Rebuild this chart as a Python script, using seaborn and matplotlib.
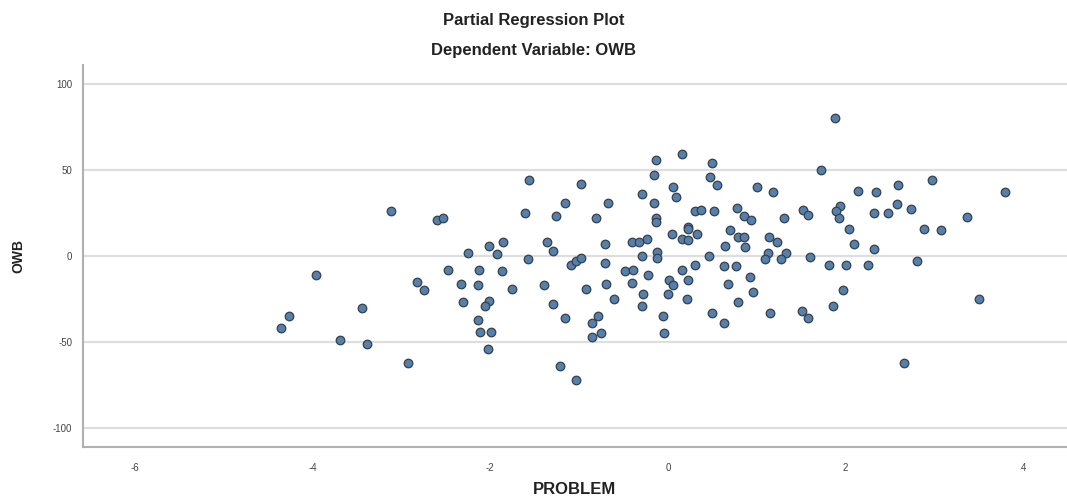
import matplotlib
matplotlib.use("Agg")
import matplotlib.pyplot as plt
import seaborn as sns
import pandas as pd

# Data
problem = [
    -4.35, -4.26, -3.96, -3.69, -3.44, -3.39, -3.12, -2.92, -2.82, -2.74,
    -2.60, -2.53, -2.25, -2.01, -1.92, -1.86, -2.47, -2.13, -1.87, -2.33,
    -2.14, -2.31, -2.01, -2.06, -2.14, -2.11, -1.99, -2.03, -1.56, -0.98,
    -1.16, -0.67, -1.61, -1.26, -0.81, -1.36, -1.29, -1.57, -1.09, -1.04,
    -0.98, -0.71, -0.71, -1.75, -1.39, -0.92, -0.70, -0.61, -1.29, -1.16,
    -0.79, -0.85, -0.75, -0.85, -1.22, -1.03, -0.14, 0.16, 0.49, -0.16,
    0.47, 0.55, 0.06, 0.09, -0.29, -0.16, 0.30, 0.37, 0.52, 0.78,
    -0.14, -0.13, 0.22, 0.22, 0.33, 0.04, 0.16, 0.23, 0.70, 0.79,
    -0.41, -0.33, -0.24, 0.64, -0.12, -0.29, -0.12, 0.46, 0.30, 0.16,
    -0.48, -0.39, -0.22, 0.01, 0.06, 0.22, 0.63, 0.76, 0.67, -0.41,
    -0.28, 0.00, 0.21, -0.29, 0.79, 0.50, -0.06, 0.63, -0.04, 1.72,
    1.00, 1.18, 2.14, 2.34, 0.85, 0.93, 1.31, 1.52, 1.57, 1.94,
    1.89, 1.92, 2.32, 2.48, 2.04, 2.09, 2.32, 0.85, 0.87, 1.14,
    1.23, 1.12, 1.09, 1.33, 1.27, 1.60, 1.81, 2.00, 2.25, 0.92,
    0.96, 1.15, 1.51, 1.57, 1.97, 1.86, 2.97, 2.59, 3.79, 2.58,
    2.74, 3.36, 2.88, 3.07, 2.80, 3.50, 2.66, 1.88,
]
owb = [
    -42, -35, -11, -49, -30, -51, 26, -62, -15, -20,
    21, 22, 2, 6, 1, 8, -8, -8, -9, -16,
    -17, -27, -26, -29, -37, -44, -44, -54, 44, 42,
    31, 31, 25, 23, 22, 8, 3, -2, -5, -3,
    -1, 7, -4, -19, -17, -19, -16, -25, -28, -36,
    -35, -39, -45, -47, -64, -72, 56, 59, 54, 47,
    46, 41, 40, 34, 36, 31, 26, 27, 26, 28,
    22, 20, 17, 15.5, 13, 13, 10, 9, 15, 11,
    8, 8, 10, 6, 2.5, 0, -1, 0, -5, -8,
    -9, -8, -11, -14, -17, -14, -6, -6, -16, -15.5,
    -22, -22, -25, -29, -27, -33, -35, -39, -45, 50,
    40, 37, 38, 37, 23, 21, 22, 27, 24, 29,
    26, 22, 25, 25, 15.5, 7, 4, 11, 5, 11,
    8, 2, -2, 2, -2, -0.5, -5, -5, -5, -12,
    -21, -33, -32, -36, -20, -29, 44, 41, 37, 30,
    27.5, 22.5, 15.5, 15, -3, -25, -62, 80,
]
x_ticks = [-6, -4, -2, 0, 2, 4]
y_ticks = [-100, -50, 0, 50, 100]

df = pd.DataFrame({"PROBLEM": problem, "OWB": owb})

sns.set_theme(style="white")
plt.rcParams["font.family"] = ["Liberation Sans", "DejaVu Sans"]
plt.rcParams["axes.unicode_minus"] = False

fig = plt.figure(figsize=(10.67, 4.99), dpi=100)
ax = fig.add_axes([0.078, 0.105, 0.922, 0.765])

for yv in y_ticks:
    ax.axhline(yv, color="#dedede", lw=1.6, zorder=0)

sns.scatterplot(data=df, x="PROBLEM", y="OWB", ax=ax, s=38,
                color="#5580ab", edgecolor="#36404c", linewidth=0.9,
                zorder=3, legend=False)

ax.set_xlim(-6.58, 4.49)
ax.set_ylim(-110.7, 111)
ax.set_xticks(x_ticks)
ax.set_yticks(y_ticks)
ax.tick_params(axis="both", length=0, labelsize=7, colors="#444444")
ax.tick_params(axis="x", pad=12)
ax.tick_params(axis="y", pad=8)
ax.grid(False)
for side in ["top", "right"]:
    ax.spines[side].set_visible(False)
for side in ["left", "bottom"]:
    ax.spines[side].set_color("#b0b0b0")
    ax.spines[side].set_linewidth(1.5)

ax.set_xlabel("")
ax.set_ylabel("")
fig.text(0.5385, 1 - 489 / 499, "PROBLEM", ha="center", va="center",
         fontsize=12, fontweight="bold", color="#222222")
fig.text(18 / 1067, 1 - 256 / 499, "OWB", ha="center", va="center",
         rotation=90, fontsize=10, fontweight="bold", color="#222222")
fig.text(0.5, 1 - 21 / 499, "Partial Regression Plot", ha="center",
         va="center", fontsize=12, fontweight="bold", color="#222222")
fig.text(0.5, 1 - 51 / 499, "Dependent Variable: OWB", ha="center",
         va="center", fontsize=12, fontweight="bold", color="#222222")

fig.savefig("out.png", dpi=100)
